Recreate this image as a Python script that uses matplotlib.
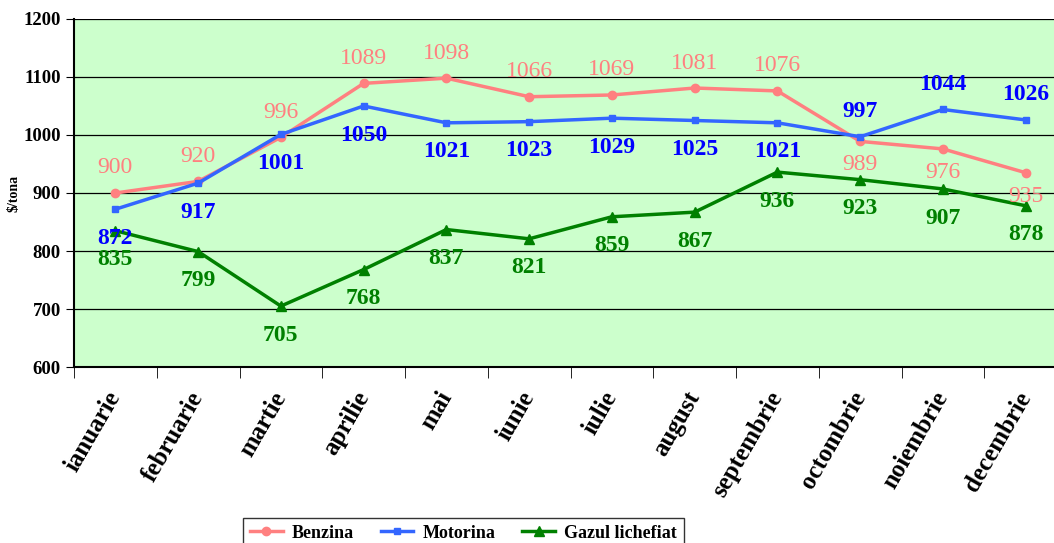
import matplotlib
matplotlib.use("Agg")
import matplotlib.pyplot as plt
from matplotlib.ticker import FixedLocator

# data
months = ["ianuarie", "februarie", "martie", "aprilie", "mai", "iunie",
          "iulie", "august", "septembrie", "octombrie", "noiembrie", "decembrie"]
benzina = [900, 920, 996, 1089, 1098, 1066, 1069, 1081, 1076, 989, 976, 935]
motorina = [872, 917, 1001, 1050, 1021, 1023, 1029, 1025, 1021, 997, 1044, 1026]
gazul = [835, 799, 705, 768, 837, 821, 859, 867, 936, 923, 907, 878]

# label placement: +1 above the point, -1 below
benz_side = [1, 1, 1, 1, 1, 1, 1, 1, 1, -1, -1, -1]
mot_side = [-1, -1, -1, -1, -1, -1, -1, -1, -1, 1, 1, 1]
gaz_side = [-1] * 12

plt.rcParams["font.family"] = "Liberation Serif"

fig = plt.figure(figsize=(10.54, 5.43), dpi=100)
ax = fig.add_axes([74 / 1054, 1 - 367 / 543, (1067 - 74) / 1054, (367 - 19) / 543])
ax.set_facecolor("#CCFFCC")

x = list(range(len(months)))
ax.plot(x, benzina, color="#FF8080", lw=2.5, marker="o", ms=6, label="Benzina", zorder=3)
ax.plot(x, motorina, color="#3366FF", lw=2.5, marker="s", ms=5, label="Motorina", zorder=4)
ax.plot(x, gazul, color="#008000", lw=2.5, marker="^", ms=7, label="Gazul lichefiat", zorder=3)

def put_labels(vals, sides, color, weight, up, down):
    for i, (v, s) in enumerate(zip(vals, sides)):
        off = up if s > 0 else -down
        ax.annotate(str(v), (i, v), xytext=(0, off), textcoords="offset points",
                    ha="center", va="center", color=color, fontsize=17,
                    fontweight=weight, zorder=5)

put_labels(benzina, benz_side, "#FF8080", "normal", 18, 17)
put_labels(motorina, mot_side, "#0000FF", "bold", 18, 21)
put_labels(gazul, gaz_side, "#008000", "bold", 18, 21)

ax.set_xlim(-0.5, 11.5)
ax.set_ylim(600, 1200)
ax.set_yticks(range(600, 1201, 100))
ax.grid(axis="y", color="black", lw=0.9)
ax.set_axisbelow(True)

ax.set_xticks(x)
ax.set_xticklabels(months, rotation=60, ha="right", va="center",
                   rotation_mode="anchor", fontsize=18, fontweight="bold")
ax.tick_params(axis="x", length=0, pad=19)
ax.xaxis.set_minor_locator(FixedLocator([i - 0.5 for i in range(13)]))
ax.tick_params(axis="x", which="minor", length=8, direction="out", color="black")
ax.tick_params(axis="y", length=6, direction="out", labelsize=13.5)
for lab in ax.get_yticklabels():
    lab.set_fontweight("bold")

for sp in ["top", "right"]:
    ax.spines[sp].set_visible(False)
ax.spines["left"].set_color("black")
ax.spines["bottom"].set_color("black")
ax.spines["left"].set_linewidth(1.5)
ax.spines["bottom"].set_linewidth(1.5)

ax.set_ylabel("$/tona", fontsize=10, fontweight="bold", labelpad=2)

leg = fig.legend(loc="lower left", bbox_to_anchor=(243 / 1054, -6 / 543), ncol=3,
                 frameon=True, fancybox=False, edgecolor="black", handlelength=1.8,
                 handletextpad=0.5, prop={"weight": "bold", "size": 13},
                 columnspacing=1.5, borderpad=0.4, borderaxespad=0)
leg.get_frame().set_linewidth(1.0)

fig.savefig("out.png", dpi=100)
